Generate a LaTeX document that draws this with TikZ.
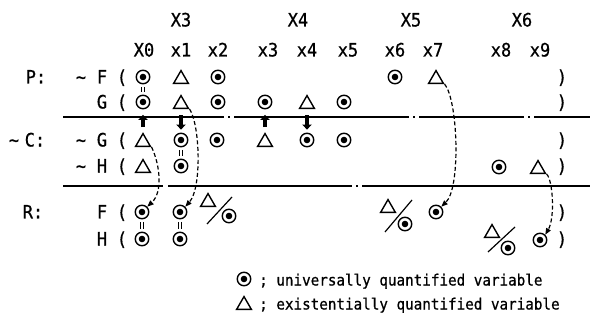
\documentclass[tikz,border=0pt]{standalone}
\usepackage{fontspec}
\setmainfont{DejaVu Sans Mono}
\newfontfamily\labfont{DejaVu Sans Mono}[FakeStretch=0.92,FakeBold=0.7]
\usetikzlibrary{arrows.meta,shapes.geometric}
\begin{document}
\begin{tikzpicture}[x=1pt,y=-1pt,
  uq/.style={circle, draw, line width=1.4pt, minimum size=13.5pt, inner sep=0pt,
    path picture={\fill (path picture bounding box.center) circle (3.3pt);}},
  eq/.style={regular polygon, regular polygon sides=3, draw, line width=1.4pt,
    minimum size=17pt, inner sep=0pt},
  lbl/.style={inner sep=0pt, anchor=base, font=\labfont\fontsize{18.5}{21}\selectfont},
  leg/.style={inner sep=0pt, anchor=base west, font=\labfont\fontsize{15.5}{18}\selectfont},
  sepline/.style={line width=1.4pt},
  ident/.style={double, double distance=2.2pt, line width=0.9pt, shorten <=2.5pt, shorten >=2.5pt},
  push/.style={line width=3.8pt, -{Triangle[length=5pt,width=9.5pt]}},
  link/.style={line width=1.2pt, dash pattern=on 4pt off 2.5pt, -{Triangle[length=6.5pt,width=5pt]}},
  slash/.style={line width=1.2pt}]
\useasboundingbox (0,0) rectangle (590,321);

% headers
\node[lbl] (hX3) at (181,26.5) {X3};
\node[lbl] (hX4) at (298,26.5) {X4};
\node[lbl] (hX5) at (411,26.5) {X5};
\node[lbl] (hX6) at (522,26.5) {X6};
\node[lbl] (h0) at (144,56.5) {X0};
\node[lbl] (h1) at (181,56.5) {x1};
\node[lbl] (h2) at (218,56.5) {x2};
\node[lbl] (h3) at (268,56.5) {x3};
\node[lbl] (h4) at (307,56.5) {x4};
\node[lbl] (h5) at (348,56.5) {x5};
\node[lbl] (h6) at (395,56.5) {x6};
\node[lbl] (h7) at (433,56.5) {x7};
\node[lbl] (h8) at (501,56.5) {x8};
\node[lbl] (h9) at (540,56.5) {x9};

% group labels
\node[lbl] (lP) at (36,83.5) {P:};
\node[lbl] (lCt) at (14,146.5) {\textasciitilde};
\node[lbl] (lC) at (35,146.5) {C:};
\node[lbl] (lR) at (33,218.5) {R:};

% predicate labels
\node[lbl] (tF) at (81,83.5) {\textasciitilde};
\node[lbl] (pF) at (102,83.5) {F};
\node[lbl] (oF) at (122,83.5) {(};
\node[lbl] (cF) at (562,83.5) {)};
\node[lbl] (pG) at (102,108.5) {G};
\node[lbl] (oG) at (122,108.5) {(};
\node[lbl] (cG) at (562,108.5) {)};
\node[lbl] (tnG) at (81,146.5) {\textasciitilde};
\node[lbl] (pnG) at (102,146.5) {G};
\node[lbl] (onG) at (122,146.5) {(};
\node[lbl] (cnG) at (562,146.5) {)};
\node[lbl] (tnH) at (81,172.5) {\textasciitilde};
\node[lbl] (pnH) at (102,172.5) {H};
\node[lbl] (onH) at (122,172.5) {(};
\node[lbl] (cnH) at (562,172.5) {)};
\node[lbl] (pRF) at (102,218.5) {F};
\node[lbl] (oRF) at (122,218.5) {(};
\node[lbl] (cRF) at (562,218.5) {)};
\node[lbl] (pRH) at (102,245.5) {H};
\node[lbl] (oRH) at (122,245.5) {(};
\node[lbl] (cRH) at (562,245.5) {)};

% separator lines
\draw[sepline] (63,117) -- (224,117) (228,117) -- (230,117) (234,117) -- (409,117)
  (413,117) -- (415,117) (419,117) -- (524,117) (528,117) -- (530,117) (534,117) -- (590,117);
\draw[sepline] (63,186) -- (163,186) (168,186) -- (352,186) (356,186) -- (358,186) (362,186) -- (590,186);

% ~F row
\node[uq] (F0) at (143,77) {};
\node[eq] (F1) at (181,79.1) {};
\node[uq] (F2) at (218,77) {};
\node[uq] (F6) at (395,77) {};
\node[eq] (F7) at (436,79.1) {};
% G row
\node[uq] (G0) at (143,102) {};
\node[eq] (G1) at (181,104.1) {};
\node[uq] (G2) at (218,102) {};
\node[uq] (G3) at (265,102) {};
\node[eq] (G4) at (307,104.1) {};
\node[uq] (G5) at (344,102) {};
% ~G row
\node[eq] (nG0) at (143,142.1) {};
\node[uq] (nG1) at (181,140) {};
\node[uq] (nG2) at (217,140) {};
\node[eq] (nG3) at (265,142.1) {};
\node[uq] (nG4) at (307,140) {};
\node[uq] (nG5) at (344,140) {};
% ~H row
\node[eq] (nH0) at (143,168.1) {};
\node[uq] (nH1) at (181,166) {};
\node[uq] (nH8) at (499,167) {};
\node[eq] (nH9) at (538,169.1) {};
% R: F row
\node[uq] (RF0) at (142,212) {};
\node[uq] (RF1) at (180,212) {};
\node[uq] (RF7) at (436,212) {};
% R: H row
\node[uq] (RH0) at (142,239) {};
\node[uq] (RH1) at (180,239) {};
\node[uq] (RH9) at (540,240) {};

% fractions
\node[eq] (fa1t) at (208,202.1) {};
\node[uq] (fa1c) at (229,216) {};
\coordinate (fa1a) at (207,224); \coordinate (fa1b) at (232,197);
\draw[slash] (fa1a) -- (fa1b);
\node[eq] (fa2t) at (388,208.1) {};
\node[uq] (fa2c) at (405,224) {};
\coordinate (fa2a) at (385,232); \coordinate (fa2b) at (412,200);
\draw[slash] (fa2a) -- (fa2b);
\node[eq] (fa3t) at (492,233.1) {};
\node[uq] (fa3c) at (508,248) {};
\coordinate (fa3a) at (488,252); \coordinate (fa3b) at (515,227);
\draw[slash] (fa3a) -- (fa3b);

% identity marks
\draw[ident] (F0.south) -- (G0.north);
\draw[ident] (nG1.south) -- (nH1.north);
\draw[ident] (RF0.south) -- (RH0.north);
\draw[ident] (RF1.south) -- (RH1.north);

% thick arrows
\draw[push, shorten <=5pt, shorten >=5.5pt] (nG0.corner 1) -- (G0.south);
\draw[push, shorten <=6pt, shorten >=3pt] (G1.south) -- (nG1.north);
\draw[push, shorten <=5pt, shorten >=5.5pt] (nG3.corner 1) -- (G3.south);
\draw[push, shorten <=6pt, shorten >=3pt] (G4.south) -- (nG4.north);

% dashed links
\draw[link] (nG0.corner 3) .. controls (160,165) and (163,192) .. (RF0.north east);
\draw[link] (G1.corner 3) .. controls (200,125) and (202,188) .. (RF1.north east);
\draw[link] (F7.corner 3) .. controls (458,100) and (461,188) .. (RF7.north east);
\draw[link] (nH9.corner 3) .. controls (553,180) and (555,218) .. (RH9.north east);

% legend
\node[uq] (Luq) at (244,279) {};
\node[leg] (Lt1) at (259,285.5) {;\ universally quantified variable};
\node[eq] (Leq) at (244,305.1) {};
\node[leg] (Lt2) at (259,309.5) {;\ existentially quantified variable};
\end{tikzpicture}
\end{document}
